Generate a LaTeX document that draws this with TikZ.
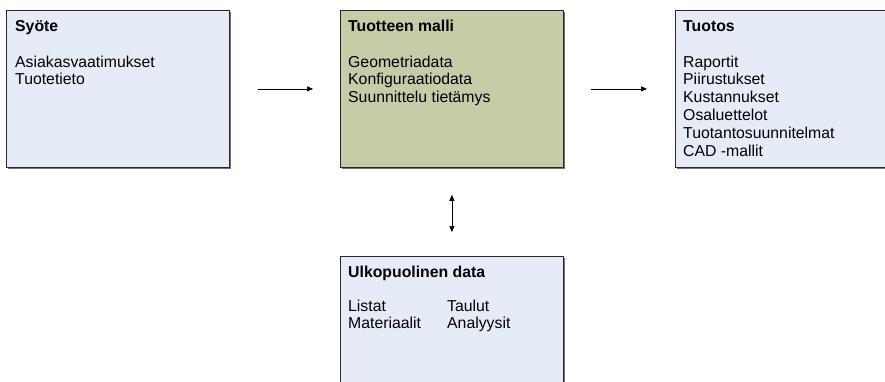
\documentclass[tikz,border=0pt]{standalone}
\usepackage{fontspec}
\setmainfont{Liberation Sans}
\usetikzlibrary{arrows.meta}
\definecolor{paleblue}{RGB}{230,236,247}
\definecolor{sage}{RGB}{197,205,168}
\definecolor{edge}{RGB}{40,40,40}
\newcommand{\lines}[1]{\parbox[t]{200pt}{\raggedright #1}}
\begin{document}
\begin{tikzpicture}[x=1pt,y=-1pt,
  panel/.style={draw=edge,line width=0.8pt,minimum width=223pt,minimum height=157pt,
    inner sep=0pt,anchor=north west},
  shadowbox/.style={fill=black!55,minimum width=223pt,minimum height=157pt,
    inner sep=0pt,anchor=north west},
  txt/.style={inner sep=0pt,anchor=base west,
    font=\fontsize{15.8}{17.8}\selectfont},
  ttl/.style={txt,font=\fontsize{15.8}{17.8}\selectfont\bfseries},
  arr/.style={-{Triangle[length=6pt,width=5pt]},line width=0.7pt},
  arrboth/.style={{Triangle[length=6pt,width=5pt]}-{Triangle[length=6pt,width=5pt]},line width=0.7pt}
]
\path[use as bounding box,clip] (0,0) rectangle (885,381);
\fill[white] (0,0) rectangle (885,381);

% shadows
\node[shadowbox] at (7.5,11.5) {};
\node[shadowbox] at (341.5,11.5) {};
\node[shadowbox] at (676.5,11.5) {};
\node[shadowbox] at (341.5,257.5) {};

% panels
\node[panel,fill=paleblue] (syote) at (6,10) {};
\node[panel,fill=sage] (malli) at (340,10) {};
\node[panel,fill=paleblue] (tuotos) at (675,10) {};
\node[panel,fill=paleblue] (ulko) at (340,256) {};

% texts
\node[ttl] (t1) at (15,31) {Syöte};
\node[txt] (b1) at (15,67) {\lines{Asiakasvaatimukset\\Tuotetieto}};

\node[ttl] (t2) at (348,31) {Tuotteen malli};
\node[txt] (b2) at (348,67) {\lines{Geometriadata\\Konfiguraatiodata\\Suunnittelu tietämys}};

\node[ttl] (t3) at (683,31) {Tuotos};
\node[txt] (b3) at (683,67) {\lines{Raportit\\Piirustukset\\Kustannukset\\Osaluettelot\\Tuotantosuunnitelmat\\CAD -mallit}};

\node[ttl] (t4) at (348,277) {Ulkopuolinen data};
\node[txt] (b4a) at (348,311) {\lines{Listat\\Materiaalit}};
\node[txt] (b4b) at (447,311) {\lines{Taulut\\Analyysit}};

% connectors
\draw[arr,shorten <=28pt,shorten >=27pt] (syote) -- (malli);
\draw[arr,shorten <=27pt,shorten >=28pt] (malli) -- (tuotos);
\draw[arrboth,shorten <=27pt,shorten >=24pt] (malli) -- (ulko);
\end{tikzpicture}
\end{document}
